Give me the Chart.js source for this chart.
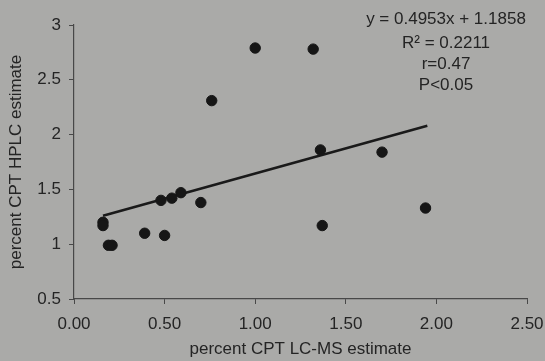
<!DOCTYPE html>
<html>
<head>
<meta charset="utf-8">
<script src="https://cdn.jsdelivr.net/npm/chart.js@4.4.0/dist/chart.umd.min.js"></script>
<style>
  html, body { margin: 0; padding: 0; background: #aaaaa8; }
  #wrap { width: 545px; height: 361px; }
</style>
</head>
<body>
<div id="wrap"><canvas id="graph_cpt" width="545" height="361"></canvas></div>
<script>
// values
const lcmsValues = [0.16, 0.16, 0.19, 0.21, 0.39, 0.50, 0.48, 0.54, 0.59, 0.70, 0.76, 1.00, 1.32, 1.36, 1.70, 1.37, 1.94];
const hplcValues = [1.20, 1.17, 0.99, 0.99, 1.10, 1.08, 1.40, 1.42, 1.47, 1.38, 2.31, 2.79, 2.78, 1.86, 1.84, 1.17, 1.33];
const trendX = [0.16, 1.95];
const trendY = [1.26, 2.08];
const xTicks = [0, 0.5, 1, 1.5, 2, 2.5];
const yTicks = [0.5, 1, 1.5, 2, 2.5, 3];
const statsText = ['y = 0.4953x + 1.1858', 'R\u00b2 = 0.2211', 'r=0.47', 'P<0.05'];

const ink = '#242424';
const fontFam = '"Liberation Sans", Arial, sans-serif';

let points = [];
for (let i = 0; i < lcmsValues.length; i++) {
    points.push({ x: lcmsValues[i], y: hplcValues[i] });
}
let trend = [];
for (let i = 0; i < trendX.length; i++) {
    trend.push({ x: trendX[i], y: trendY[i] });
}

const fondGris = {
    id: 'fondGris',
    beforeDraw(chart) {
        const c = chart.ctx;
        c.save();
        c.fillStyle = '#aaaaa8';
        c.fillRect(0, 0, chart.width, chart.height);
        c.restore();
    }
};

const texteStats = {
    id: 'texteStats',
    afterDraw(chart) {
        const c = chart.ctx;
        const area = chart.chartArea;
        const offsets = [-6, 18, 39, 60];
        c.save();
        c.fillStyle = ink;
        c.font = '17px ' + fontFam;
        c.textAlign = 'center';
        c.textBaseline = 'middle';
        for (let i = 0; i < statsText.length; i++) {
            c.fillText(statsText[i], area.right - 81, area.top + offsets[i]);
        }
        c.restore();
    }
};

const ctx = document.getElementById('graph_cpt');

const graph_cpt = new Chart(ctx, {
    type: 'scatter',
    data: {
        datasets: [{
            label: 'CPT',
            data: points,
            backgroundColor: '#161616',
            borderColor: '#161616',
            pointRadius: 5.2,
            pointHoverRadius: 5.2
        }, {
            type: 'line',
            label: 'trend',
            data: trend,
            borderColor: '#1a1a1a',
            borderWidth: 2.6,
            pointRadius: 0,
            fill: false
        }]
    },
    options: {
        responsive: false,
        animation: false,
        events: [],
        layout: { padding: { left: 0, right: 18, top: 25, bottom: 0 } },
        plugins: {
            legend: { display: false },
            tooltip: { enabled: false }
        },
        scales: {
            x: {
                type: 'linear',
                min: 0,
                max: 2.5,
                afterBuildTicks: (scale) => { scale.ticks = xTicks.map(v => ({ value: v })); },
                afterFit: (scale) => {
                    scale.height = 62;
                    scale.paddingLeft = 0;
                    scale.paddingRight = 0;
                },
                border: { display: true, color: '#484848', width: 1.2 },
                grid: { drawOnChartArea: false, drawTicks: true, tickLength: 5, color: '#484848' },
                ticks: {
                    color: ink,
                    font: { family: fontFam, size: 17 },
                    padding: 10,
                    maxRotation: 0,
                    callback: (v) => Number(v).toFixed(2)
                },
                title: {
                    display: true,
                    text: 'percent CPT LC-MS estimate',
                    color: ink,
                    font: { family: fontFam, size: 17 },
                    padding: { top: 4, bottom: 1 }
                }
            },
            y: {
                type: 'linear',
                min: 0.5,
                max: 3,
                afterBuildTicks: (scale) => { scale.ticks = yTicks.map(v => ({ value: v })); },
                afterFit: (scale) => { scale.width = 74; },
                border: { display: true, color: '#484848', width: 1.2 },
                grid: { drawOnChartArea: false, drawTicks: true, tickLength: 5, color: '#484848' },
                ticks: {
                    color: ink,
                    font: { family: fontFam, size: 17 },
                    padding: 8,
                    callback: (v) => String(v)
                },
                title: {
                    display: true,
                    text: 'percent CPT HPLC estimate',
                    color: ink,
                    font: { family: fontFam, size: 17 },
                    padding: { top: 6, bottom: 0 }
                }
            }
        }
    },
    plugins: [fondGris, texteStats]
});
</script>
</body>
</html>
